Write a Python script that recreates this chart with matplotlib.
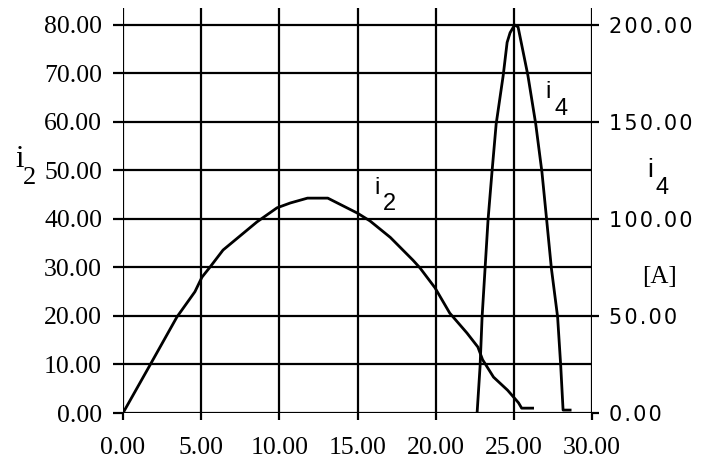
import matplotlib.pyplot as plt
from matplotlib.ticker import FuncFormatter

# values
x_ticks = [0, 5, 10, 15, 20, 25, 30]
i2_ticks = [0, 10, 20, 30, 40, 50, 60, 70, 80]
i4_ticks = [0, 50, 100, 150, 200]

i2_x = [0, 1.73, 3.45, 4.6, 5.05, 5.57, 6.4, 8.57, 9.85, 10.7, 11.8, 13.1, 15.0,
        15.8, 17.1, 18.55, 19.0, 19.96, 20.9, 22.0, 22.7, 23.0, 23.7, 24.6,
        25.3, 25.5, 26.2]
i2_y = [0, 9.9, 19.8, 25.0, 28.0, 30.1, 33.6, 39.4, 42.3, 43.3, 44.3, 44.3, 41.2,
        39.6, 36.2, 31.5, 29.9, 25.8, 20.6, 16.5, 13.6, 11.0, 7.4, 4.7,
        2.1, 1.0, 1.0]

i4_x = [22.65, 22.84, 22.97, 23.16, 23.35, 23.6, 23.87, 24.32, 24.57, 24.76, 25.05,
        25.27, 25.9, 26.4, 26.8, 27.1, 27.4, 27.8, 28.0, 28.15, 28.6]
i4_y = [0, 24, 49.5, 74.5, 99.5, 124, 149, 174, 191, 196, 200,
        199, 174, 149, 124, 99.5, 74.7, 49.5, 24.2, 1.5, 1.5]

serif = 'Liberation Serif'
sans = 'Liberation Sans'

fig = plt.figure(figsize=(7.02, 4.63), dpi=100)
ax = fig.add_axes([123 / 702, 1 - 413 / 463, (592 - 123) / 702, (413 - 8) / 463])

ax.set_xlim(0, 30)
ax.set_ylim(0, 83.5)
ax.set_xticks(x_ticks)
ax.set_yticks(i2_ticks)
ax.grid(True, color='black', linewidth=1.6)
for s in ax.spines.values():
    s.set_visible(False)
ax.xaxis.set_major_formatter(FuncFormatter(lambda v, p: f'{v:.2f}'))
ax.yaxis.set_major_formatter(FuncFormatter(lambda v, p: f'{v:.2f}'))
ax.tick_params(axis='y', direction='out', length=7, width=1.6, pad=8,
               labelsize=18.5)
ax.tick_params(axis='x', direction='out', length=5, width=1.6, pad=12,
               labelsize=18.5)
for lab in ax.get_xticklabels() + ax.get_yticklabels():
    lab.set_fontfamily(serif)

ax.plot(i2_x, i2_y, color='black', linewidth=2)

ax2 = ax.twinx()
ax2.set_ylim(0, 83.5 * 2.5)
ax2.set_yticks(i4_ticks)
for s in ax2.spines.values():
    s.set_visible(False)
ax2.yaxis.set_major_formatter(
    FuncFormatter(lambda v, p: '\u200a'.join(f'{v:.2f}')))
ax2.tick_params(axis='y', direction='out', length=5, width=1.6, pad=7,
                labelsize=15)
for lab in ax2.get_yticklabels():
    lab.set_fontfamily('DejaVu Sans')
ax2.plot(i4_x, i4_y, color='black', linewidth=2)

# curve labels
ax.text(16.1, 45.2, 'i', fontfamily=sans, fontsize=17)
ax.text(16.6, 41.8, '2', fontfamily=sans, fontsize=17)
ax.text(27.0, 65.0, 'i', fontfamily=sans, fontsize=17)
ax.text(27.6, 61.5, '4', fontfamily=sans, fontsize=17)

# axis labels
fig.text(15 / 702, 1 - 167 / 463, 'i', fontfamily=serif, fontsize=22)
fig.text(23 / 702, 1 - 184 / 463, '2', fontfamily=serif, fontsize=19)
fig.text(647 / 702, 1 - 177 / 463, 'i', fontfamily=sans, fontsize=19)
fig.text(655 / 702, 1 - 194 / 463, '4', fontfamily=sans, fontsize=17)
fig.text(659 / 702, 1 - 277 / 463, '[A]', fontfamily=serif, fontsize=18,
         ha='center', va='center')

fig.savefig('out.png', dpi=100)
